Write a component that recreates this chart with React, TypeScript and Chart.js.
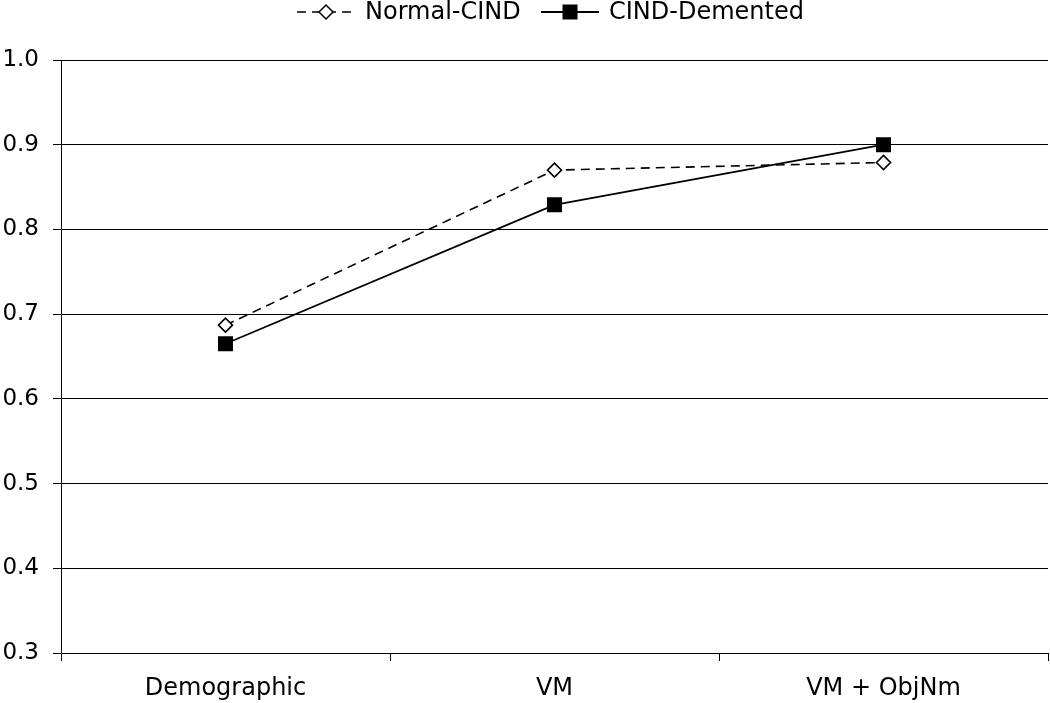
import React, { useEffect, useRef } from "react";
import { Chart, registerables } from "chart.js";

Chart.register(...registerables);

const categories = ["Demographic", "VM", "VM + ObjNm"];
const normalCind = [0.687, 0.870, 0.879];
const cindDemented = [0.665, 0.829, 0.900];
const seriesNames = ["Normal-CIND", "CIND-Demented"];
const yMin = 0.3;
const yMax = 1.0;
const yStep = 0.1;

const FONT = '"DejaVu Sans", Verdana, sans-serif';

const legendPlugin = {
  id: "customLegend",
  afterDraw(chart: any) {
    const ctx = chart.ctx;
    ctx.save();
    ctx.font = `24px ${FONT}`;
    ctx.textBaseline = "middle";
    ctx.textAlign = "left";
    ctx.fillStyle = "#000";
    const y = 12;
    const starts = [297, 541];
    const lineLen = 58;
    chart.data.datasets.forEach((ds: any, i: number) => {
      const x = starts[i];
      ctx.strokeStyle = "#000";
      ctx.lineWidth = ds.borderWidth;
      ctx.setLineDash(ds.borderDash || []);
      ctx.beginPath();
      ctx.moveTo(x, y);
      ctx.lineTo(x + lineLen, y);
      ctx.stroke();
      ctx.setLineDash([]);
      const cx = x + lineLen / 2;
      ctx.beginPath();
      if (ds.pointStyle === "rectRot") {
        const r = 7;
        ctx.lineWidth = 1.5;
        ctx.moveTo(cx - r, y);
        ctx.lineTo(cx, y - r);
        ctx.lineTo(cx + r, y);
        ctx.lineTo(cx, y + r);
        ctx.closePath();
        ctx.fillStyle = "#fff";
        ctx.fill();
        ctx.stroke();
      } else {
        const s = 7.5;
        ctx.rect(cx - s, y - s, 2 * s, 2 * s);
        ctx.fillStyle = "#000";
        ctx.fill();
      }
      ctx.fillStyle = "#000";
      ctx.fillText(ds.label, x + lineLen + 10, y + 1);
    });
    ctx.restore();
  },
};

export default function App() {
  const ref = useRef<HTMLCanvasElement | null>(null);
  useEffect(() => {
    if (!ref.current) return;
    const chart = new Chart(ref.current, {
      type: "line",
      data: {
        labels: categories,
        datasets: [
          {
            label: seriesNames[0],
            data: normalCind,
            borderColor: "#000",
            borderWidth: 1.6,
            borderDash: [9, 6],
            pointStyle: "rectRot",
            pointRadius: 7,
            pointBackgroundColor: "#fff",
            pointBorderColor: "#000",
            pointBorderWidth: 1.6,
            tension: 0,
          },
          {
            label: seriesNames[1],
            data: cindDemented,
            borderColor: "#000",
            borderWidth: 1.8,
            pointStyle: "rect",
            pointRadius: 10.6,
            pointBackgroundColor: "#000",
            pointBorderColor: "#000",
            pointBorderWidth: 0,
            tension: 0,
          },
        ],
      },
      options: {
        animation: false,
        responsive: false,
        maintainAspectRatio: false,
        devicePixelRatio: 1,
        layout: { autoPadding: false, padding: { top: 60, right: 2, left: 0, bottom: 0 } },
        plugins: {
          legend: { display: false },
          tooltip: { enabled: false },
        },
        scales: {
          x: {
            offset: true,
            grid: {
              offset: true,
              drawOnChartArea: false,
              drawTicks: true,
              tickLength: 8,
              color: "#000",
              lineWidth: 1,
            },
            border: { color: "#000", width: 1 },
            ticks: {
              color: "#000",
              font: { family: FONT, size: 24 },
              padding: 13,
              maxRotation: 0,
            },
            afterFit(scale: any) {
              scale.height = 50;
              scale.paddingLeft = 0;
              scale.paddingRight = 0;
            },
          },
          y: {
            min: yMin,
            max: yMax,
            grid: {
              color: "#000",
              lineWidth: 1,
              tickLength: 8,
            },
            border: { color: "#000", width: 1 },
            ticks: {
              stepSize: yStep,
              color: "#000",
              font: { family: FONT, size: 23 },
              padding: 14,
              callback: (v: any) => Number(v).toFixed(1),
            },
            afterFit(scale: any) {
              scale.width = 61;
              scale.paddingTop = 0;
              scale.paddingBottom = 0;
            },
          },
        },
      },
      plugins: [legendPlugin],
    });
    return () => chart.destroy();
  }, []);
  return (
    <div style={{ position: "fixed", left: 0, top: 0, width: 1050, height: 703, background: "#fff" }}>
      <canvas ref={ref} width={1050} height={703} style={{ width: 1050, height: 703, display: "block" }} />
    </div>
  );
}
